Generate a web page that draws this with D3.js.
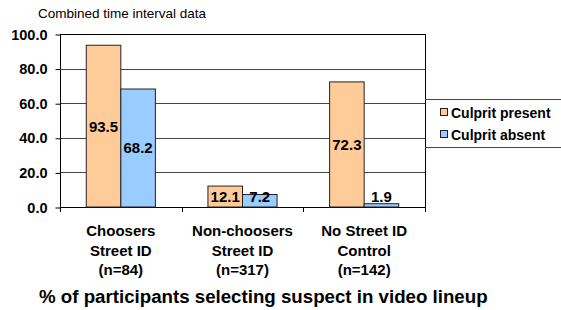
<!DOCTYPE html>
<html>
<head>
<meta charset="utf-8">
<script src="https://cdn.jsdelivr.net/npm/d3@7"></script>
<style>
  body { margin: 0; background: #fff; }
  text { font-family: "Liberation Sans", Arial, sans-serif; }
</style>
</head>
<body>
<script>
// chart data
var categories = [["Choosers", "Street ID", "(n=84)"], ["Non-choosers", "Street ID", "(n=317)"], ["No Street ID", "Control", "(n=142)"]];
var seriesNames = ["Culprit present", "Culprit absent"];
var seriesColors = ["#FFCC99", "#99CCFF"];
var culpritPresent = [93.5, 12.1, 72.3];
var culpritAbsent = [68.2, 7.2, 1.9];
var yTicks = [0, 20, 40, 60, 80, 100];

var W = 561, H = 310;
var plotLeft = 60, plotRight = 425, plotTop = 34, plotBottom = 207;

var svg = d3.select("body").append("svg").attr("width", W).attr("height", H);

var x = d3.scaleBand().domain(d3.range(categories.length)).range([plotLeft, plotRight]);
var xs = d3.scaleBand().domain(d3.range(seriesNames.length)).range([0, x.bandwidth()]).paddingOuter(0.76);
var y = d3.scaleLinear().domain([0, 100]).range([plotBottom, plotTop]);

// grid lines
svg.append("g").selectAll("line").data(yTicks.slice(1, -1)).enter().append("line")
  .attr("x1", plotLeft).attr("x2", plotRight)
  .attr("y1", function(d){ return Math.round(y(d)) + 0.5; }).attr("y2", function(d){ return Math.round(y(d)) + 0.5; })
  .style("stroke", "#444").style("stroke-width", 1);

// plot border
svg.append("rect").attr("x", plotLeft + 0.5).attr("y", plotTop + 0.5)
  .attr("width", plotRight - plotLeft).attr("height", plotBottom - plotTop)
  .style("fill", "none").style("stroke", "#000").style("stroke-width", 1);

// y axis
var yAxis = d3.axisLeft(y).tickValues(yTicks).tickSize(5).tickFormat(d3.format(".1f"));
var ya = svg.append("g").attr("transform", "translate(" + (plotLeft + 0.5) + ",0.5)").call(yAxis);
ya.select(".domain").remove();
ya.selectAll("text").style("font-family", "Liberation Sans, Arial, sans-serif").style("font-size", "14.5px").style("font-weight", "bold").style("fill", "#000").attr("x", -13);
ya.selectAll("line").style("stroke", "#000");

// category ticks
var bounds = d3.range(categories.length + 1).map(function(i){ return plotLeft + i * x.step(); });
svg.append("g").selectAll("line").data(bounds).enter().append("line")
  .attr("x1", function(d){ return Math.round(d) + 0.5; }).attr("x2", function(d){ return Math.round(d) + 0.5; })
  .attr("y1", plotBottom).attr("y2", plotBottom + 5)
  .style("stroke", "#000");

// bars
var series = [culpritPresent, culpritAbsent];
series.forEach(function(vals, s){
  var g = svg.append("g");
  g.selectAll("rect").data(vals).enter().append("rect")
    .attr("x", function(d, i){ return x(i) + xs(s); })
    .attr("y", function(d){ return y(d); })
    .attr("width", xs.bandwidth())
    .attr("height", function(d){ return y(0) - y(d); })
    .style("fill", seriesColors[s]).style("stroke", "#222").style("stroke-width", 1);
  g.selectAll("text").data(vals).enter().append("text")
    .attr("x", function(d, i){ return x(i) + xs(s) + xs.bandwidth() / 2; })
    .attr("y", function(d){ return Math.min((y(d) + y(0)) / 2, y(0) - 10); })
    .attr("dy", "0.36em")
    .attr("text-anchor", "middle")
    .style("font-size", "15px").style("font-weight", "bold")
    .text(function(d){ return d3.format(".1f")(d); });
});

// category labels
var cl = svg.append("g").selectAll("text").data(categories).enter().append("text")
  .attr("x", function(d, i){ return x(i) + x.bandwidth() / 2; })
  .attr("y", 236)
  .attr("text-anchor", "middle")
  .style("font-size", "15px").style("font-weight", "bold");
cl.selectAll("tspan").data(function(d){ return d; }).enter().append("tspan")
  .attr("x", function(){ return d3.select(this.parentNode).attr("x"); })
  .attr("dy", function(d, i){ return i ? 19.5 : 0; })
  .text(function(d){ return d; });

// legend
svg.append("line").attr("x1", plotRight).attr("x2", W).attr("y1", 99.5).attr("y2", 99.5).style("stroke", "#444");
svg.append("line").attr("x1", plotRight).attr("x2", W).attr("y1", 147.5).attr("y2", 147.5).style("stroke", "#444");
seriesNames.forEach(function(n, i){
  var ly = 113 + i * 22;
  svg.append("rect").attr("x", 440.5).attr("y", ly - 4.5).attr("width", 7).attr("height", 7)
    .style("fill", seriesColors[i]).style("stroke", "#222");
  svg.append("text").attr("x", 451).attr("y", ly).attr("dy", "0.36em")
    .style("font-size", "14px").style("font-weight", "bold").text(n);
});

// titles
svg.append("text").attr("x", 38).attr("y", 18).style("font-size", "13.5px").text("Combined time interval data");
svg.append("text").attr("x", 39).attr("y", 303).style("font-size", "18.7px").style("font-weight", "bold")
  .text("% of participants selecting suspect in video lineup");
</script>
</body>
</html>
